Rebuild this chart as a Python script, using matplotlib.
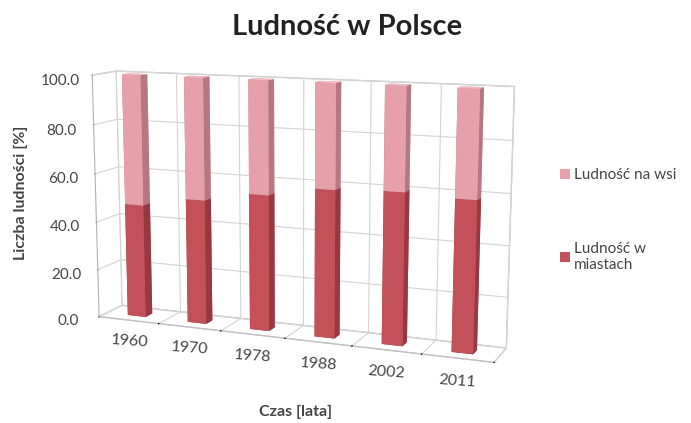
import matplotlib
matplotlib.use("Agg")
import matplotlib.pyplot as plt
import numpy as np
from matplotlib.patches import Patch
from mpl_toolkits.mplot3d import proj3d

years = ["1960", "1970", "1978", "1988", "2002", "2011"]
urban = [47.0, 51.0, 55.0, 59.0, 60.0, 59.0]
rural = [100.0 - u for u in urban]
series_names = ["Ludność na wsi", "Ludność w\nmiastach"]
zticks = [0, 20, 40, 60, 80, 100]

plt.rcParams['font.family'] = ['Lato', 'DejaVu Sans']
plt.rcParams['grid.color'] = '#d4d4d4'
plt.rcParams['grid.linewidth'] = 0.8

c_urban = '#c4505a'
c_urban_side = '#983840'
c_urban_top = '#d8707a'
c_rural = '#e6a0a9'
c_rural_side = '#b47880'
c_rural_top = '#f0bcc2'
txt = '#454545'

fig = plt.figure(figsize=(6.91, 4.23), dpi=100)
ax = fig.add_axes([0.018, 0.004, 0.80, 0.98], projection='3d')
ax.set_proj_type('persp', focal_length=0.6)
ax.view_init(elev=11, azim=-68)
ax.set_box_aspect((6, 0.7, 3.6), zoom=1.17)

n = len(years)
xs = np.arange(n)
bw = 0.3
depth = 1.0
bd = 0.3
y0 = (depth - bd) / 2

def facecols(front, side, top):
    # face order: -z, +z, -y, +y, -x, +x
    return [side, top, front, front, side, side]

cols_u = []
cols_r = []
for _ in range(n):
    cols_u += facecols(c_urban, c_urban_side, c_urban_top)
    cols_r += facecols(c_rural, c_rural_side, c_rural_top)

ax.bar3d(xs - bw / 2, np.full(n, y0), np.zeros(n), bw, bd, urban,
         color=cols_u, shade=False, edgecolor='none')
ax.bar3d(xs - bw / 2, np.full(n, y0), np.array(urban), bw, bd, rural,
         color=cols_r, shade=False, edgecolor='none')

ax.set_xlim(-0.5, n - 0.5)
ax.set_ylim(0, depth)
ax.set_zlim(0, 100)
ax.set_xticks(np.arange(-0.5, n, 1.0))
ax.set_xticklabels([])
ax.set_yticks([])
ax.set_zticks(zticks)
ax.set_zticklabels([f"{v:.1f}" for v in zticks], color=txt, fontsize=11)
ax.zaxis.set_ticks_position('lower')
ax.zaxis.set_label_position('lower')

for axis in (ax.xaxis, ax.yaxis, ax.zaxis):
    axis.set_pane_color((1, 1, 1, 1))
    axis.pane.set_edgecolor('#c8c8c8')
    axis.line.set_color('#b0b0b0')
    axis.offsetText.set_visible(False)
    axis.label.set_visible(False)
ax.yaxis.line.set_color((1, 1, 1, 0))
ax.xaxis.line.set_color('#c0c0c0')
ax.tick_params(axis='x', length=0)
ax.tick_params(axis='z', colors='#a0a0a0', labelcolor=txt, pad=5)

# category labels: project 3D anchor points below the floor into 2D axes coords
fig.canvas.draw()
M = ax.get_proj()
for i, yr in enumerate(years):
    px, py, _ = proj3d.proj_transform(xs[i], 0, -9, M)
    ax.text2D(px, py, yr, transform=ax.transData, ha='center', va='center',
              color=txt, fontsize=11.5, rotation=-4)

fig.text(0.030, 0.545, "Liczba ludności [%]", ha='center', va='center',
         rotation=90, fontsize=11.5, fontweight='bold', color=txt)
fig.text(0.502, 0.935, "Ludność w Polsce", ha='center', va='center',
         fontsize=21, fontweight='bold', color='#222222')
fig.text(0.428, 0.025, "Czas [lata]", ha='center', va='center',
         fontsize=11.5, fontweight='bold', color=txt)

handles = [Patch(facecolor=c_rural, edgecolor='none'),
           Patch(facecolor=c_urban, edgecolor='none')]
fig.legend(handles, series_names, loc='center left', bbox_to_anchor=(0.79, 0.48),
           frameon=False, fontsize=11, labelcolor=txt, handlelength=0.65,
           handleheight=0.65, handletextpad=0.3, labelspacing=3.9)

fig.savefig("out.png", dpi=100, facecolor='white')
